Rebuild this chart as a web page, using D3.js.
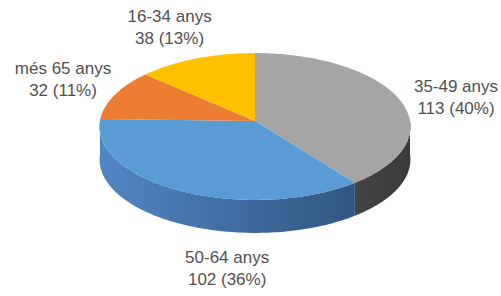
<!DOCTYPE html>
<html>
<head>
<meta charset="utf-8">
<script src="https://cdn.jsdelivr.net/npm/d3@7"></script>
<style>
  body { margin: 0; background: #fff; }
  svg { display: block; }
</style>
</head>
<body>
<svg width="501" height="296"></svg>
<script>
var categories = ["35-49 anys", "50-64 anys", "més 65 anys", "16-34 anys"];
var values = [113, 102, 32, 38];
var percents = ["40%", "36%", "11%", "13%"];

var topColors = ["#a7a4a5", "#5b9bd5", "#ed7d31", "#ffc000"];
var sideColors = [["#7a7575", "#3b3939"], ["#5186c3", "#2a4c74"], ["#c0622a", "#9a4c1f"], ["#d9a400", "#b08500"]];

// nudges for Excel-style label placement
var labelNudge = { "50-64 anys": [68, 21], "35-49 anys": [2, 8], "més 65 anys": [3, -4] };

var svg = d3.select("svg"),
    width = +svg.attr("width"),
    height = +svg.attr("height");

// pie geometry with a little perspective (front edge nearer the viewer)
var cx = 255, cy = 121, rx = 155, ry = 73, depth = 33, persp = 0.075;

var pie = d3.pie().sort(null).value(function (d) { return d; });
var arcs = pie(values);

function pt(a, dy) {
    var u = Math.sin(a), w = -Math.cos(a), k = 1 / (1 - persp * w);
    return [cx + rx * u * k, cy + ry * w * k + (dy || 0)];
}

function rim(a0, a1, dy) {
    var n = Math.max(2, Math.ceil((a1 - a0) / 0.02)), pts = [];
    for (var j = 0; j <= n; j++) pts.push(pt(a0 + (a1 - a0) * j / n, dy));
    return pts;
}

var line = d3.line();

function topPath(d) {
    return line([[cx, cy]].concat(rim(d.startAngle, d.endAngle))) + "Z";
}

function sidePath(a0, a1) {
    return line(rim(a0, a1).concat(rim(a0, a1, depth).reverse())) + "Z";
}

var defs = svg.append("defs");
sideColors.forEach(function (c, i) {
    var g = defs.append("linearGradient")
        .attr("id", "side" + i)
        .attr("gradientUnits", "userSpaceOnUse")
        .attr("x1", cx - rx).attr("x2", cx + rx)
        .attr("y1", 0).attr("y2", 0);
    g.append("stop").attr("offset", 0).attr("stop-color", c[0]);
    g.append("stop").attr("offset", 1).attr("stop-color", c[1]);
});

// visible side walls (front half)
var sides = svg.append("g");
arcs.forEach(function (d, i) {
    var a0 = Math.max(d.startAngle, Math.PI / 2),
        a1 = Math.min(d.endAngle, 3 * Math.PI / 2);
    if (a1 <= a0) return;
    sides.append("path")
        .attr("d", sidePath(a0, a1))
        .attr("fill", "url(#side" + i + ")");
});

// top faces
svg.append("g")
    .selectAll("path")
    .data(arcs)
    .enter().append("path")
    .attr("d", topPath)
    .attr("fill", function (d, i) { return topColors[i]; });

// labels
var lrx = 210, lry = 104;
var labels = svg.append("g")
    .attr("font-family", "'Liberation Sans', Arial, sans-serif")
    .attr("font-size", 17)
    .attr("fill", "#505050")
    .attr("text-anchor", "middle");

arcs.forEach(function (d, i) {
    var a = (d.startAngle + d.endAngle) / 2;
    var x = cx + lrx * Math.sin(a),
        y = cy - lry * Math.cos(a);
    if (Math.cos(a) < 0) y += depth;
    var n = labelNudge[categories[i]] || [0, 0];
    x += n[0]; y += n[1];
    var t = labels.append("text").attr("x", x).attr("y", y);
    t.append("tspan").attr("x", x).attr("dy", "-0.25em").text(categories[i]);
    t.append("tspan").attr("x", x).attr("dy", "1.3em").text(values[i] + " (" + percents[i] + ")");
});
</script>
</body>
</html>
